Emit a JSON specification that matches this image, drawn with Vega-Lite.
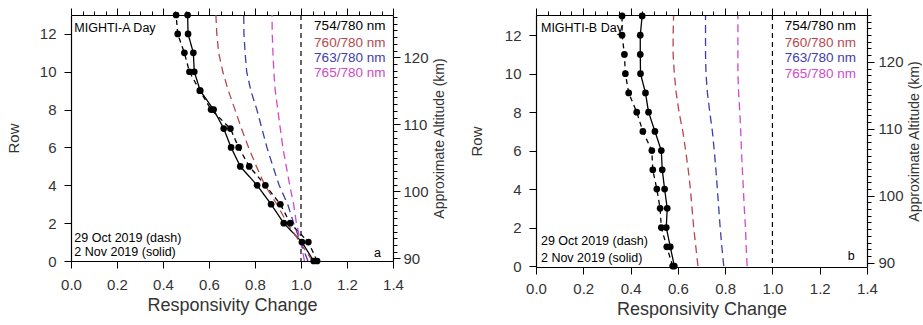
{
  "$schema": "https://vega.github.io/schema/vega-lite/v6.json",
  "padding": {"left": 6, "top": 7, "right": 0, "bottom": 0},
  "config": {
    "font": "Liberation Sans",
    "view": {"stroke": null},
    "axis": {
      "domainColor": "#000", "domainWidth": 1.2, "tickColor": "#000", "tickWidth": 1,
      "labelColor": "#333", "titleColor": "#333", "grid": false,
      "labelFont": "Liberation Sans", "titleFont": "Liberation Sans",
      "titleFontWeight": "normal", "labelOverlap": false, "labelFlush": false, "labelBound": false
    }
  },
  "datasets": {
    "a": [
      {"series": "2 Nov 2019", "row": 0, "x": 1.055}, {"series": "2 Nov 2019", "row": 1, "x": 1.004}, {"series": "2 Nov 2019", "row": 2, "x": 0.925}, {"series": "2 Nov 2019", "row": 3, "x": 0.870}, {"series": "2 Nov 2019", "row": 4, "x": 0.809}, {"series": "2 Nov 2019", "row": 5, "x": 0.736}, {"series": "2 Nov 2019", "row": 6, "x": 0.696}, {"series": "2 Nov 2019", "row": 7, "x": 0.664}, {"series": "2 Nov 2019", "row": 8, "x": 0.620}, {"series": "2 Nov 2019", "row": 9, "x": 0.562}, {"series": "2 Nov 2019", "row": 10, "x": 0.536}, {"series": "2 Nov 2019", "row": 11, "x": 0.532}, {"series": "2 Nov 2019", "row": 12, "x": 0.509}, {"series": "2 Nov 2019", "row": 13, "x": 0.507},
      {"series": "29 Oct 2019", "row": 0, "x": 1.070}, {"series": "29 Oct 2019", "row": 1, "x": 1.032}, {"series": "29 Oct 2019", "row": 2, "x": 0.953}, {"series": "29 Oct 2019", "row": 3, "x": 0.910}, {"series": "29 Oct 2019", "row": 4, "x": 0.845}, {"series": "29 Oct 2019", "row": 5, "x": 0.775}, {"series": "29 Oct 2019", "row": 6, "x": 0.729}, {"series": "29 Oct 2019", "row": 7, "x": 0.693}, {"series": "29 Oct 2019", "row": 8, "x": 0.609}, {"series": "29 Oct 2019", "row": 9, "x": 0.560}, {"series": "29 Oct 2019", "row": 10, "x": 0.515}, {"series": "29 Oct 2019", "row": 11, "x": 0.493}, {"series": "29 Oct 2019", "row": 12, "x": 0.464}, {"series": "29 Oct 2019", "row": 13, "x": 0.457},
      {"series": "760/780 nm", "row": 0, "x": 1.050}, {"series": "760/780 nm", "row": 1, "x": 0.995}, {"series": "760/780 nm", "row": 2, "x": 0.940}, {"series": "760/780 nm", "row": 3, "x": 0.895}, {"series": "760/780 nm", "row": 4, "x": 0.843}, {"series": "760/780 nm", "row": 5, "x": 0.806}, {"series": "760/780 nm", "row": 6, "x": 0.772}, {"series": "760/780 nm", "row": 7, "x": 0.741}, {"series": "760/780 nm", "row": 8, "x": 0.713}, {"series": "760/780 nm", "row": 9, "x": 0.684}, {"series": "760/780 nm", "row": 10, "x": 0.660}, {"series": "760/780 nm", "row": 11, "x": 0.642}, {"series": "760/780 nm", "row": 12, "x": 0.634}, {"series": "760/780 nm", "row": 13, "x": 0.630},
      {"series": "763/780 nm", "row": 0, "x": 1.030}, {"series": "763/780 nm", "row": 1, "x": 0.998}, {"series": "763/780 nm", "row": 2, "x": 0.968}, {"series": "763/780 nm", "row": 3, "x": 0.942}, {"series": "763/780 nm", "row": 4, "x": 0.905}, {"series": "763/780 nm", "row": 5, "x": 0.878}, {"series": "763/780 nm", "row": 6, "x": 0.852}, {"series": "763/780 nm", "row": 7, "x": 0.830}, {"series": "763/780 nm", "row": 8, "x": 0.808}, {"series": "763/780 nm", "row": 9, "x": 0.782}, {"series": "763/780 nm", "row": 10, "x": 0.764}, {"series": "763/780 nm", "row": 11, "x": 0.757}, {"series": "763/780 nm", "row": 12, "x": 0.752}, {"series": "763/780 nm", "row": 13, "x": 0.751},
      {"series": "765/780 nm", "row": 0, "x": 1.015}, {"series": "765/780 nm", "row": 1, "x": 0.999}, {"series": "765/780 nm", "row": 2, "x": 0.980}, {"series": "765/780 nm", "row": 3, "x": 0.968}, {"series": "765/780 nm", "row": 4, "x": 0.951}, {"series": "765/780 nm", "row": 5, "x": 0.936}, {"series": "765/780 nm", "row": 6, "x": 0.921}, {"series": "765/780 nm", "row": 7, "x": 0.910}, {"series": "765/780 nm", "row": 8, "x": 0.899}, {"series": "765/780 nm", "row": 9, "x": 0.888}, {"series": "765/780 nm", "row": 10, "x": 0.882}, {"series": "765/780 nm", "row": 11, "x": 0.878}, {"series": "765/780 nm", "row": 12, "x": 0.875}, {"series": "765/780 nm", "row": 13, "x": 0.874}
    ],
    "b": [
      {"series": "2 Nov 2019", "row": 0, "x": 0.585}, {"series": "2 Nov 2019", "row": 1, "x": 0.568}, {"series": "2 Nov 2019", "row": 2, "x": 0.551}, {"series": "2 Nov 2019", "row": 3, "x": 0.555}, {"series": "2 Nov 2019", "row": 4, "x": 0.544}, {"series": "2 Nov 2019", "row": 5, "x": 0.534}, {"series": "2 Nov 2019", "row": 6, "x": 0.530}, {"series": "2 Nov 2019", "row": 7, "x": 0.503}, {"series": "2 Nov 2019", "row": 8, "x": 0.476}, {"series": "2 Nov 2019", "row": 9, "x": 0.463}, {"series": "2 Nov 2019", "row": 10, "x": 0.442}, {"series": "2 Nov 2019", "row": 11, "x": 0.441}, {"series": "2 Nov 2019", "row": 12, "x": 0.441}, {"series": "2 Nov 2019", "row": 13, "x": 0.449},
      {"series": "29 Oct 2019", "row": 0, "x": 0.578}, {"series": "29 Oct 2019", "row": 1, "x": 0.553}, {"series": "29 Oct 2019", "row": 2, "x": 0.530}, {"series": "29 Oct 2019", "row": 3, "x": 0.525}, {"series": "29 Oct 2019", "row": 4, "x": 0.511}, {"series": "29 Oct 2019", "row": 5, "x": 0.494}, {"series": "29 Oct 2019", "row": 6, "x": 0.490}, {"series": "29 Oct 2019", "row": 7, "x": 0.452}, {"series": "29 Oct 2019", "row": 8, "x": 0.426}, {"series": "29 Oct 2019", "row": 9, "x": 0.392}, {"series": "29 Oct 2019", "row": 10, "x": 0.378}, {"series": "29 Oct 2019", "row": 11, "x": 0.374}, {"series": "29 Oct 2019", "row": 12, "x": 0.364}, {"series": "29 Oct 2019", "row": 13, "x": 0.364},
      {"series": "760/780 nm", "row": 0, "x": 0.685}, {"series": "760/780 nm", "row": 1, "x": 0.676}, {"series": "760/780 nm", "row": 2, "x": 0.667}, {"series": "760/780 nm", "row": 3, "x": 0.660}, {"series": "760/780 nm", "row": 4, "x": 0.653}, {"series": "760/780 nm", "row": 5, "x": 0.644}, {"series": "760/780 nm", "row": 6, "x": 0.633}, {"series": "760/780 nm", "row": 7, "x": 0.621}, {"series": "760/780 nm", "row": 8, "x": 0.605}, {"series": "760/780 nm", "row": 9, "x": 0.593}, {"series": "760/780 nm", "row": 10, "x": 0.585}, {"series": "760/780 nm", "row": 11, "x": 0.580}, {"series": "760/780 nm", "row": 12, "x": 0.580}, {"series": "760/780 nm", "row": 13, "x": 0.582},
      {"series": "763/780 nm", "row": 0, "x": 0.794}, {"series": "763/780 nm", "row": 1, "x": 0.786}, {"series": "763/780 nm", "row": 2, "x": 0.779}, {"series": "763/780 nm", "row": 3, "x": 0.773}, {"series": "763/780 nm", "row": 4, "x": 0.767}, {"series": "763/780 nm", "row": 5, "x": 0.761}, {"series": "763/780 nm", "row": 6, "x": 0.754}, {"series": "763/780 nm", "row": 7, "x": 0.746}, {"series": "763/780 nm", "row": 8, "x": 0.735}, {"series": "763/780 nm", "row": 9, "x": 0.725}, {"series": "763/780 nm", "row": 10, "x": 0.719}, {"series": "763/780 nm", "row": 11, "x": 0.717}, {"series": "763/780 nm", "row": 12, "x": 0.717}, {"series": "763/780 nm", "row": 13, "x": 0.717},
      {"series": "765/780 nm", "row": 0, "x": 0.893}, {"series": "765/780 nm", "row": 1, "x": 0.889}, {"series": "765/780 nm", "row": 2, "x": 0.886}, {"series": "765/780 nm", "row": 3, "x": 0.881}, {"series": "765/780 nm", "row": 4, "x": 0.877}, {"series": "765/780 nm", "row": 5, "x": 0.873}, {"series": "765/780 nm", "row": 6, "x": 0.869}, {"series": "765/780 nm", "row": 7, "x": 0.866}, {"series": "765/780 nm", "row": 8, "x": 0.862}, {"series": "765/780 nm", "row": 9, "x": 0.857}, {"series": "765/780 nm", "row": 10, "x": 0.854}, {"series": "765/780 nm", "row": 11, "x": 0.854}, {"series": "765/780 nm", "row": 12, "x": 0.854}, {"series": "765/780 nm", "row": 13, "x": 0.854}
    ],
    "legend_a": [
      {"text": "754/780 nm", "series": "754/780 nm", "x": 1.057, "row": 12.42},
      {"text": "760/780 nm", "series": "760/780 nm", "x": 1.057, "row": 11.54},
      {"text": "763/780 nm", "series": "763/780 nm", "x": 1.057, "row": 10.74},
      {"text": "765/780 nm", "series": "765/780 nm", "x": 1.057, "row": 9.95}
    ],
    "notes_a": [
      {"text": "MIGHTI-A Day", "series": "note", "x": 0.0145, "row": 12.33},
      {"text": "29 Oct 2019 (dash)", "series": "note", "x": 0.0145, "row": 1.24},
      {"text": "2 Nov 2019 (solid)", "series": "note", "x": 0.0145, "row": 0.49},
      {"text": "a", "series": "note", "x": 1.317, "row": 0.42}
    ],
    "legend_b": [
      {"text": "754/780 nm", "series": "754/780 nm", "x": 1.052, "row": 12.48},
      {"text": "760/780 nm", "series": "760/780 nm", "x": 1.052, "row": 11.58},
      {"text": "763/780 nm", "series": "763/780 nm", "x": 1.052, "row": 10.8},
      {"text": "765/780 nm", "series": "765/780 nm", "x": 1.052, "row": 10.0}
    ],
    "notes_b": [
      {"text": "MIGHTI-B Day", "series": "note", "x": 0.021, "row": 12.39},
      {"text": "29 Oct 2019 (dash)", "series": "note", "x": 0.021, "row": 1.3},
      {"text": "2 Nov 2019 (solid)", "series": "note", "x": 0.021, "row": 0.43},
      {"text": "b", "series": "note", "x": 1.319, "row": 0.52}
    ],
    "ref": [{"x": 1.0}],
    "alt_a": [{"x": 0.7, "alt": 100}],
    "alt_b": [{"x": 0.7, "alt": 100}]
  },
  "spacing": 22,
  "hconcat": [
    {
      "width": 322, "height": 246,
      "layer": [
        {
          "layer": [
            {
              "data": {"name": "a"},
              "mark": {"type": "line", "strokeWidth": 1.3},
              "encoding": {
                "x": {"field": "x", "type": "quantitative", "scale": {"domain": [0, 1.4], "nice": false, "zero": false},
                  "axis": {"orient": "bottom", "title": "Responsivity Change", "values": [0,0.05,0.1,0.15,0.2,0.25,0.3,0.35,0.4,0.45,0.5,0.55,0.6,0.65,0.7,0.75,0.8,0.85,0.9,0.95,1,1.05,1.1,1.15,1.2,1.25,1.3,1.35,1.4],
                    "tickSize": {"condition": {"test": "abs(datum.value*5-round(datum.value*5))<0.001", "value": 7}, "value": 4},
                    "labelExpr": "abs(datum.value*5-round(datum.value*5))<0.001 ? format(datum.value,'.1f') : ''",
                    "labelFontSize": 15, "labelPadding": 9, "titleFontSize": 18, "titlePadding": 4, "titleColor": "#333333"}},
                "y": {"field": "row", "type": "quantitative", "scale": {"domain": [0, 13], "nice": false, "zero": false},
                  "axis": {"orient": "left", "title": "Row", "values": [0,0.5,1,1.5,2,2.5,3,3.5,4,4.5,5,5.5,6,6.5,7,7.5,8,8.5,9,9.5,10,10.5,11,11.5,12,12.5,13],
                    "tickSize": {"condition": {"test": "datum.value % 2 == 0", "value": 7}, "value": 4},
                    "labelExpr": "datum.value % 2 == 0 ? datum.label : ''",
                    "labelFontSize": 15, "labelPadding": 8, "titleFontSize": 15, "titlePadding": 18, "titleColor": "#333333"}},
                "color": {"field": "series", "type": "nominal", "legend": null,
                  "scale": {"domain": ["29 Oct 2019", "2 Nov 2019", "760/780 nm", "763/780 nm", "765/780 nm", "754/780 nm", "note"],
                            "range": ["#000000", "#000000", "#b8474d", "#3d3da8", "#d04ac8", "#000000", "#000000"]}},
                "strokeDash": {"field": "series", "type": "nominal", "legend": null,
                  "scale": {"domain": ["29 Oct 2019", "2 Nov 2019", "760/780 nm", "763/780 nm", "765/780 nm"],
                            "range": [[5, 4], [1, 0], [8, 5], [8, 5], [8, 5]]}},
                "order": {"field": "row", "type": "quantitative"}
              }
            },
            {
              "data": {"name": "a"},
              "transform": [{"filter": {"field": "series", "oneOf": ["29 Oct 2019", "2 Nov 2019"]}}],
              "mark": {"type": "point", "filled": true, "size": 45, "color": "#000000", "opacity": 1},
              "encoding": {
                "x": {"field": "x", "type": "quantitative"},
                "y": {"field": "row", "type": "quantitative"}
              }
            },
            {
              "data": {"name": "ref"},
              "mark": {"type": "rule", "strokeDash": [5, 4], "color": "#000000", "strokeWidth": 1.2},
              "encoding": {"x": {"field": "x", "type": "quantitative"}}
            },
            {
              "data": {"name": "legend_a"},
              "mark": {"type": "text", "align": "left", "baseline": "middle", "fontSize": 13.5},
              "encoding": {
                "x": {"field": "x", "type": "quantitative"},
                "y": {"field": "row", "type": "quantitative"},
                "text": {"field": "text"},
                "color": {"field": "series", "type": "nominal", "legend": null}
              }
            },
            {
              "data": {"name": "notes_a"},
              "mark": {"type": "text", "align": "left", "baseline": "middle", "fontSize": 12.5},
              "encoding": {
                "x": {"field": "x", "type": "quantitative"},
                "y": {"field": "row", "type": "quantitative"},
                "text": {"field": "text"},
                "color": {"field": "series", "type": "nominal", "legend": null}
              }
            }
          ]
        },
        {
          "data": {"name": "alt_a"},
          "mark": {"type": "point", "opacity": 0},
          "encoding": {
            "x": {"field": "x", "type": "quantitative", "scale": {"domain": [0, 1.4], "nice": false, "zero": false},
              "axis": {"orient": "top", "title": null, "labels": false, "values": [0,0.05,0.1,0.15,0.2,0.25,0.3,0.35,0.4,0.45,0.5,0.55,0.6,0.65,0.7,0.75,0.8,0.85,0.9,0.95,1,1.05,1.1,1.15,1.2,1.25,1.3,1.35,1.4],
                "tickSize": {"condition": {"test": "abs(datum.value*5-round(datum.value*5))<0.001", "value": 7}, "value": 4}}},
            "y": {"field": "alt", "type": "quantitative", "scale": {"domain": [89.6, 126.3], "nice": false, "zero": false},
              "axis": {"orient": "right", "title": "Approximate Altitude (km)", "titleAngle": 270, "titleBaseline": "top", "titleColor": "#333333",
                "values": [90,91,92,93,94,95,96,97,98,99,100,101,102,103,104,105,106,107,108,109,110,111,112,113,114,115,116,117,118,119,120,121,122,123,124,125,126],
                "tickSize": {"condition": {"test": "datum.value % 10 == 0", "value": 7}, "value": 4},
                "labelExpr": "datum.value % 10 == 0 ? datum.label : ''",
                "labelFontSize": 15, "labelPadding": 3, "titleFontSize": 14, "titlePadding": 4}}
          }
        }
      ],
      "resolve": {"scale": {"y": "independent"}, "axis": {"x": "independent", "y": "independent"}}
    },
    {
      "width": 331, "height": 252,
      "layer": [
        {
          "layer": [
            {
              "data": {"name": "b"},
              "mark": {"type": "line", "strokeWidth": 1.3},
              "encoding": {
                "x": {"field": "x", "type": "quantitative", "scale": {"domain": [0, 1.4], "nice": false, "zero": false},
                  "axis": {"orient": "bottom", "title": "Responsivity Change", "values": [0,0.05,0.1,0.15,0.2,0.25,0.3,0.35,0.4,0.45,0.5,0.55,0.6,0.65,0.7,0.75,0.8,0.85,0.9,0.95,1,1.05,1.1,1.15,1.2,1.25,1.3,1.35,1.4],
                    "tickSize": {"condition": {"test": "abs(datum.value*5-round(datum.value*5))<0.001", "value": 7}, "value": 4},
                    "labelExpr": "abs(datum.value*5-round(datum.value*5))<0.001 ? format(datum.value,'.1f') : ''",
                    "labelFontSize": 15, "labelPadding": 7, "titleFontSize": 18, "titlePadding": 4, "titleColor": "#333333"}},
                "y": {"field": "row", "type": "quantitative", "scale": {"domain": [-0.05, 13.05], "nice": false, "zero": false},
                  "axis": {"orient": "left", "title": "Row", "values": [0,0.5,1,1.5,2,2.5,3,3.5,4,4.5,5,5.5,6,6.5,7,7.5,8,8.5,9,9.5,10,10.5,11,11.5,12,12.5,13],
                    "tickSize": {"condition": {"test": "datum.value % 2 == 0", "value": 7}, "value": 4},
                    "labelExpr": "datum.value % 2 == 0 ? datum.label : ''",
                    "labelFontSize": 15, "labelPadding": 8, "titleFontSize": 15, "titlePadding": 20, "titleColor": "#333333"}},
                "color": {"field": "series", "type": "nominal", "legend": null,
                  "scale": {"domain": ["29 Oct 2019", "2 Nov 2019", "760/780 nm", "763/780 nm", "765/780 nm", "754/780 nm", "note"],
                            "range": ["#000000", "#000000", "#b8474d", "#3d3da8", "#d04ac8", "#000000", "#000000"]}},
                "strokeDash": {"field": "series", "type": "nominal", "legend": null,
                  "scale": {"domain": ["29 Oct 2019", "2 Nov 2019", "760/780 nm", "763/780 nm", "765/780 nm"],
                            "range": [[5, 4], [1, 0], [8, 5], [8, 5], [8, 5]]}},
                "order": {"field": "row", "type": "quantitative"}
              }
            },
            {
              "data": {"name": "b"},
              "transform": [{"filter": {"field": "series", "oneOf": ["29 Oct 2019", "2 Nov 2019"]}}],
              "mark": {"type": "point", "filled": true, "size": 45, "color": "#000000", "opacity": 1},
              "encoding": {
                "x": {"field": "x", "type": "quantitative"},
                "y": {"field": "row", "type": "quantitative"}
              }
            },
            {
              "data": {"name": "ref"},
              "mark": {"type": "rule", "strokeDash": [5, 4], "color": "#000000", "strokeWidth": 1.2},
              "encoding": {"x": {"field": "x", "type": "quantitative"}}
            },
            {
              "data": {"name": "legend_b"},
              "mark": {"type": "text", "align": "left", "baseline": "middle", "fontSize": 13.5},
              "encoding": {
                "x": {"field": "x", "type": "quantitative"},
                "y": {"field": "row", "type": "quantitative"},
                "text": {"field": "text"},
                "color": {"field": "series", "type": "nominal", "legend": null}
              }
            },
            {
              "data": {"name": "notes_b"},
              "mark": {"type": "text", "align": "left", "baseline": "middle", "fontSize": 12.5},
              "encoding": {
                "x": {"field": "x", "type": "quantitative"},
                "y": {"field": "row", "type": "quantitative"},
                "text": {"field": "text"},
                "color": {"field": "series", "type": "nominal", "legend": null}
              }
            }
          ]
        },
        {
          "data": {"name": "alt_b"},
          "mark": {"type": "point", "opacity": 0},
          "encoding": {
            "x": {"field": "x", "type": "quantitative", "scale": {"domain": [0, 1.4], "nice": false, "zero": false},
              "axis": {"orient": "top", "title": null, "labels": false, "values": [0,0.05,0.1,0.15,0.2,0.25,0.3,0.35,0.4,0.45,0.5,0.55,0.6,0.65,0.7,0.75,0.8,0.85,0.9,0.95,1,1.05,1.1,1.15,1.2,1.25,1.3,1.35,1.4],
                "tickSize": {"condition": {"test": "abs(datum.value*5-round(datum.value*5))<0.001", "value": 7}, "value": 4}}},
            "y": {"field": "alt", "type": "quantitative", "scale": {"domain": [89.35, 127.0], "nice": false, "zero": false},
              "axis": {"orient": "right", "title": "Approximate Altitude (km)", "titleAngle": 270, "titleBaseline": "top", "titleColor": "#333333",
                "values": [90,91,92,93,94,95,96,97,98,99,100,101,102,103,104,105,106,107,108,109,110,111,112,113,114,115,116,117,118,119,120,121,122,123,124,125,126,127],
                "tickSize": {"condition": {"test": "datum.value % 10 == 0", "value": 7}, "value": 4},
                "labelExpr": "datum.value % 10 == 0 ? datum.label : ''",
                "labelFontSize": 15, "labelPadding": 4, "titleFontSize": 14, "titlePadding": 4}}
          }
        }
      ],
      "resolve": {"scale": {"y": "independent"}, "axis": {"x": "independent", "y": "independent"}}
    }
  ]
}
